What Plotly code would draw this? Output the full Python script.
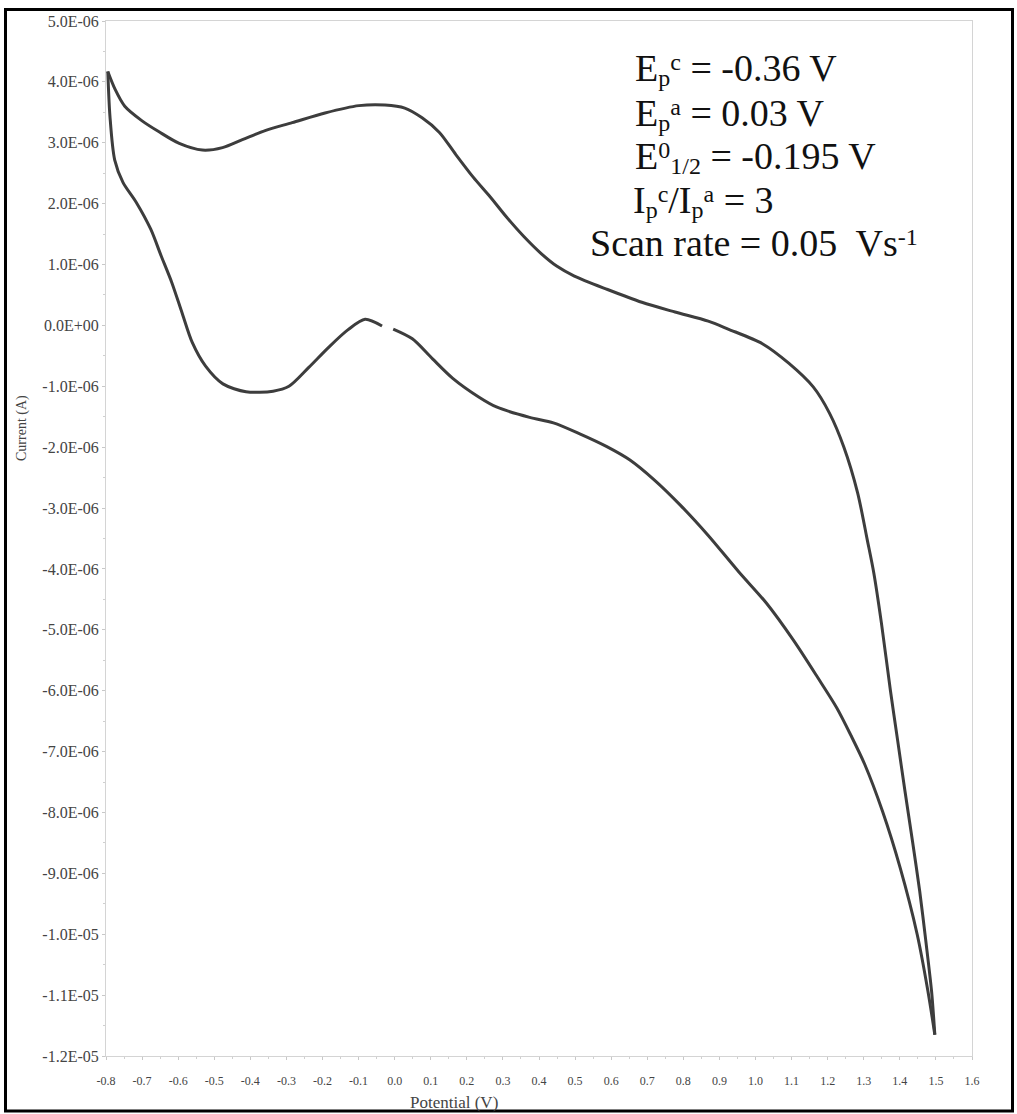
import plotly.graph_objects as go

# ---------------- data ----------------
# Potential (V) and current (microampere) for the upper branch
upper_potential = [-0.795, -0.775, -0.748, -0.700, -0.653, -0.597, -0.533, -0.477, -0.422, -0.359,
                   -0.284, -0.193, -0.099, -0.027, 0.028, 0.076, 0.124, 0.169, 0.217, 0.265,
                   0.310, 0.358, 0.406, 0.450, 0.498, 0.590, 0.685, 0.777, 0.869, 0.924,
                   1.019, 1.092, 1.160, 1.205, 1.245, 1.283, 1.310, 1.328, 1.349, 1.374,
                   1.394, 1.414, 1.435, 1.455, 1.472, 1.488, 1.497]
upper_current_uA = [4.17, 3.88, 3.60, 3.36, 3.18, 2.99, 2.88, 2.92, 3.05, 3.20,
                    3.33, 3.49, 3.61, 3.62, 3.57, 3.41, 3.17, 2.81, 2.44, 2.11,
                    1.78, 1.46, 1.18, 0.97, 0.81, 0.59, 0.38, 0.22, 0.07, -0.06,
                    -0.30, -0.62, -1.01, -1.44, -2.00, -2.75, -3.53, -4.07, -4.89, -6.00,
                    -6.82, -7.64, -8.47, -9.29, -10.11, -10.94, -11.65]

# lower branch, left part (up to the small gap)
lower_a_potential = [-0.795, -0.789, -0.776, -0.753, -0.716, -0.676, -0.647, -0.618, -0.590, -0.561,
                     -0.524, -0.476, -0.412, -0.337, -0.293, -0.238, -0.183, -0.129, -0.082, -0.035]
lower_a_current_uA = [4.17, 3.43, 2.72, 2.35, 2.02, 1.58, 1.14, 0.71, 0.22, -0.28,
                      -0.67, -0.96, -1.09, -1.08, -1.00, -0.69, -0.36, -0.07, 0.10, -0.01]

# lower branch, right part (after the gap)
lower_b_potential = [-0.004, 0.049, 0.105, 0.161, 0.234, 0.282, 0.374, 0.440, 0.513, 0.588,
                     0.652, 0.720, 0.793, 0.869, 0.954, 1.030, 1.105, 1.172, 1.225, 1.265,
                     1.302, 1.352, 1.401, 1.448, 1.478, 1.497]
lower_b_current_uA = [-0.06, -0.22, -0.55, -0.87, -1.18, -1.34, -1.51, -1.60, -1.78, -1.99,
                      -2.21, -2.54, -2.96, -3.45, -4.05, -4.56, -5.17, -5.78, -6.28, -6.74,
                      -7.20, -7.98, -8.91, -10.00, -10.94, -11.65]

# axis ticks
y_tick_values = [5, 4, 3, 2, 1, 0, -1, -2, -3, -4, -5, -6, -7, -8, -9, -10, -11, -12]
y_tick_labels = ["5.0E-06", "4.0E-06", "3.0E-06", "2.0E-06", "1.0E-06", "0.0E+00",
                 "-1.0E-06", "-2.0E-06", "-3.0E-06", "-4.0E-06", "-5.0E-06", "-6.0E-06",
                 "-7.0E-06", "-8.0E-06", "-9.0E-06", "-1.0E-05", "-1.1E-05", "-1.2E-05"]
x_tick_values = [-0.8, -0.7, -0.6, -0.5, -0.4, -0.3, -0.2, -0.1, 0.0, 0.1, 0.2, 0.3, 0.4,
                 0.5, 0.6, 0.7, 0.8, 0.9, 1.0, 1.1, 1.2, 1.3, 1.4, 1.5, 1.6]
x_tick_labels = ["-0.8", "-0.7", "-0.6", "-0.5", "-0.4", "-0.3", "-0.2", "-0.1", "0.0", "0.1",
                 "0.2", "0.3", "0.4", "0.5", "0.6", "0.7", "0.8", "0.9", "1.0", "1.1", "1.2",
                 "1.3", "1.4", "1.5", "1.6"]

SUB = "<span style='font-size:24px;baseline-shift:-5px'>{}</span>"
SUP = "<span style='font-size:24px;baseline-shift:11px'>{}</span>"
info_lines = [
    "E" + SUB.format("p") + SUP.format("c") + " = -0.36 V",
    "E" + SUB.format("p") + SUP.format("a") + " = 0.03 V",
    "E" + SUP.format("0") + SUB.format("1/2") + " = -0.195 V",
    "I" + SUB.format("p") + SUP.format("c") + "/I" + SUB.format("p") + SUP.format("a") + " = 3",
    "Scan rate = 0.05  Vs" + SUP.format("-1"),
]

# ---------------- layout geometry ----------------
W, H = 1017, 1114
L, R, T, B = 106, 972, 21, 1056   # plot area in pixels


def px_x(p):
    return (p - L) / (R - L)


def px_y(p):
    return (B - p) / (B - T)


line_style = dict(color="#3d3d3d", width=3, shape="spline", smoothing=0.8)

fig = go.Figure()
for xs, ys in [(upper_potential, upper_current_uA),
               (lower_a_potential, lower_a_current_uA),
               (lower_b_potential, lower_b_current_uA)]:
    fig.add_trace(go.Scatter(x=xs, y=ys, mode="lines", line=line_style,
                             showlegend=False, hoverinfo="x+y"))

serif = "Liberation Serif, Times New Roman, serif"

fig.update_layout(
    width=W, height=H,
    margin=dict(l=L, r=W - R, t=T, b=H - B),
    paper_bgcolor="white", plot_bgcolor="white",
    showlegend=False,
    font=dict(family=serif, color="#444"),
)

fig.update_xaxes(
    range=[-0.8, 1.6], tickmode="array", tickvals=x_tick_values, ticktext=x_tick_labels,
    showgrid=False, zeroline=False, showline=True, linecolor="#d4d4d4", linewidth=1,
    mirror=True, ticks="outside", ticklen=3, tickcolor="#c8c8c8",
    tickfont=dict(family=serif, size=12, color="#444"), ticklabelstandoff=11,
    minor=dict(tickmode="linear", tick0=-0.8, dtick=0.05, ticks="outside", ticklen=2,
               tickcolor="#d0d0d0"),
)
fig.update_yaxes(
    range=[-12, 5], tickmode="array", tickvals=y_tick_values, ticktext=y_tick_labels,
    showgrid=False, zeroline=False, showline=True, linecolor="#d4d4d4", linewidth=1,
    mirror=True, ticks="outside", ticklen=3, tickcolor="#c8c8c8",
    tickfont=dict(family=serif, size=16, color="#444"),
    minor=dict(tickmode="linear", tick0=-12, dtick=0.5, ticks="outside", ticklen=2,
               tickcolor="#d0d0d0"),
)

# axis titles as annotations (positioned like the reference)
fig.add_annotation(text="Current (A)", xref="paper", yref="paper", x=px_x(22), y=px_y(428),
                   textangle=-90, showarrow=False, font=dict(family=serif, size=14, color="#444"),
                   xanchor="center", yanchor="middle")
fig.add_annotation(text="Potential (V)", xref="paper", yref="paper", x=px_x(454), y=px_y(1102),
                   showarrow=False, font=dict(family=serif, size=17, color="#444"),
                   xanchor="center", yanchor="middle")

# information text block
info_pos = [(633, 69), (633, 114), (633, 157), (631, 201), (588, 243)]
for txt, (px, py) in zip(info_lines, info_pos):
    fig.add_annotation(text=txt, xref="paper", yref="paper", x=px_x(px), y=px_y(py),
                       showarrow=False, xanchor="left", yanchor="middle",
                       font=dict(family=serif, size=38, color="#111"))

# black outer frame
fig.add_shape(type="rect", xref="paper", yref="paper",
              x0=px_x(5.5), x1=px_x(1012.5), y0=px_y(1111), y1=px_y(9.5),
              line=dict(color="black", width=3), fillcolor="rgba(0,0,0,0)", layer="above")

fig.write_html("out.html", config={"displayModeBar": False},
               post_script="document.body.style.margin='0px';")
